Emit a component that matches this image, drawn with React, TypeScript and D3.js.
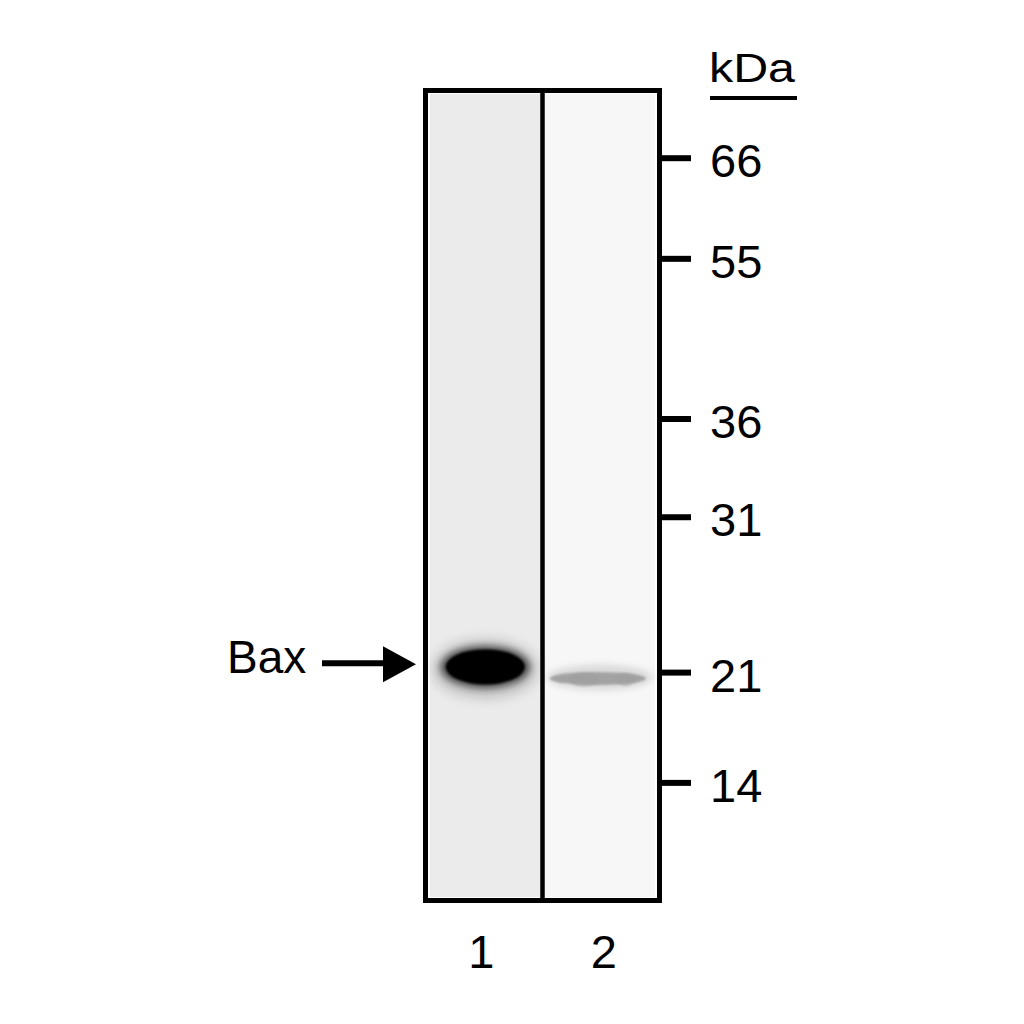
import React from "react";
import * as d3 from "d3";

// molecular weight markers (kDa) and where they ran, as fraction of gel length
const markerKDa = [66, 55, 36, 31, 21, 14];
const markerRf = [0.081, 0.206, 0.405, 0.527, 0.72, 0.857];

// lanes and their bands
const lanes = ["1", "2"];
const laneBackground = [0.08, 0.03]; // grey level of the membrane
const bandRf = [0.713, 0.726];
const bandIntensity = [1, 0.38];

const target = "Bax";
const targetRf = 0.712;

const W = 1024;
const H = 1024;
const font = "'Liberation Sans', Arial, Helvetica, sans-serif";

const App: React.FC = () => {
  const gel = { left: 428, right: 657, top: 93, bottom: 898 };

  const y = d3.scaleLinear().domain([0, 1]).range([gel.top, gel.bottom]);
  const x = d3
    .scaleBand<string>()
    .domain(lanes)
    .range([gel.left, gel.right])
    .paddingInner(0);

  // darkness 0..1 -> grey
  const shade = d3.scaleLinear<string>().domain([0, 1]).range(["#ffffff", "#000000"]);

  const bw = x.bandwidth();
  const arrowY = y(targetRf);

  return (
    <svg
      width={W}
      height={H}
      style={{ position: "absolute", left: 0, top: 0, background: "#fff" }}
      fontFamily={font}
    >
      <defs>
        <filter id="blurS" x="-50%" y="-50%" width="200%" height="200%">
          <feGaussianBlur stdDeviation="1.2" />
        </filter>
        <filter id="blurM" x="-50%" y="-50%" width="200%" height="200%">
          <feGaussianBlur stdDeviation="3.5" />
        </filter>
        <filter id="blurL" x="-50%" y="-50%" width="200%" height="200%">
          <feGaussianBlur stdDeviation="7" />
        </filter>
      </defs>

      {/* membrane background per lane */}
      {lanes.map((l, i) => (
        <rect
          key={"bg" + l}
          x={x(l)! + 2}
          y={gel.top + 1}
          width={bw - 4}
          height={gel.bottom - gel.top - 2}
          fill={shade(laneBackground[i])}
        />
      ))}

      {/* bands */}
      {lanes.map((l, i) => {
        const cx = x(l)! + bw / 2;
        const cy = y(bandRf[i]);
        const v = bandIntensity[i];
        if (v > 0.8) {
          return (
            <g key={"band" + l}>
              <ellipse cx={cx} cy={cy + 2} rx={bw * 0.45} ry={28} fill="#000" opacity={0.22} filter="url(#blurL)" />
              <ellipse cx={cx} cy={cy} rx={bw * 0.39} ry={21} fill={shade(v)} opacity={0.6} filter="url(#blurM)" />
              <ellipse cx={cx} cy={cy} rx={bw * 0.345} ry={17.5} fill={shade(v)} filter="url(#blurS)" />
            </g>
          );
        }
        return (
          <g key={"band" + l}>
            <ellipse cx={cx} cy={cy} rx={bw * 0.46} ry={13} fill="#000" opacity={v * 0.3} filter="url(#blurM)" />
            <ellipse cx={cx - 2} cy={cy + 1} rx={bw * 0.42} ry={6.5} fill={shade(v)} opacity={0.9} filter="url(#blurS)" />
            <ellipse cx={cx - 16} cy={cy + 2} rx={bw * 0.13} ry={7} fill={shade(v)} opacity={0.55} filter="url(#blurS)" />
            <ellipse cx={cx + 26} cy={cy + 2} rx={bw * 0.08} ry={6.5} fill={shade(v)} opacity={0.55} filter="url(#blurS)" />
          </g>
        );
      })}

      {/* gel frame and lane divider */}
      <rect
        x={gel.left - 2.5}
        y={gel.top - 2.5}
        width={gel.right - gel.left + 5}
        height={gel.bottom - gel.top + 5}
        fill="none"
        stroke="#000"
        strokeWidth={5}
      />
      {lanes.slice(1).map((l) => (
        <line key={"div" + l} x1={x(l)!} x2={x(l)!} y1={gel.top} y2={gel.bottom} stroke="#000" strokeWidth={4.5} />
      ))}

      {/* marker ticks */}
      {markerKDa.map((m, i) => (
        <g key={"m" + m} transform={`translate(0,${y(markerRf[i])})`}>
          <line x1={gel.right + 3} x2={gel.right + 34} y1={0} y2={0} stroke="#000" strokeWidth={6} />
          <text x={gel.right + 53} dy={19} fontSize={47} fill="#000">
            {m}
          </text>
        </g>
      ))}

      {/* kDa header */}
      <text x={709} y={82} fontSize={41} textLength={86} lengthAdjust="spacingAndGlyphs" fill="#000">
        kDa
      </text>
      <line x1={710} x2={797} y1={98} y2={98} stroke="#000" strokeWidth={4} />

      {/* lane numbers */}
      {lanes.map((l, i) => (
        <text
          key={"lab" + l}
          x={x(l)! + bw / 2 + (i - 0.5) * 8}
          y={968}
          fontSize={47}
          textAnchor="middle"
          fill="#000"
        >
          {l}
        </text>
      ))}

      {/* target arrow */}
      <text x={227} y={arrowY + 7} fontSize={46} fill="#000">
        {target}
      </text>
      <line x1={322} x2={388} y1={arrowY - 3} y2={arrowY - 3} stroke="#000" strokeWidth={6} />
      <path d={`M383,${arrowY - 20} L416,${arrowY - 2} L383,${arrowY + 16} Z`} fill="#000" />
    </svg>
  );
};

export default App;
